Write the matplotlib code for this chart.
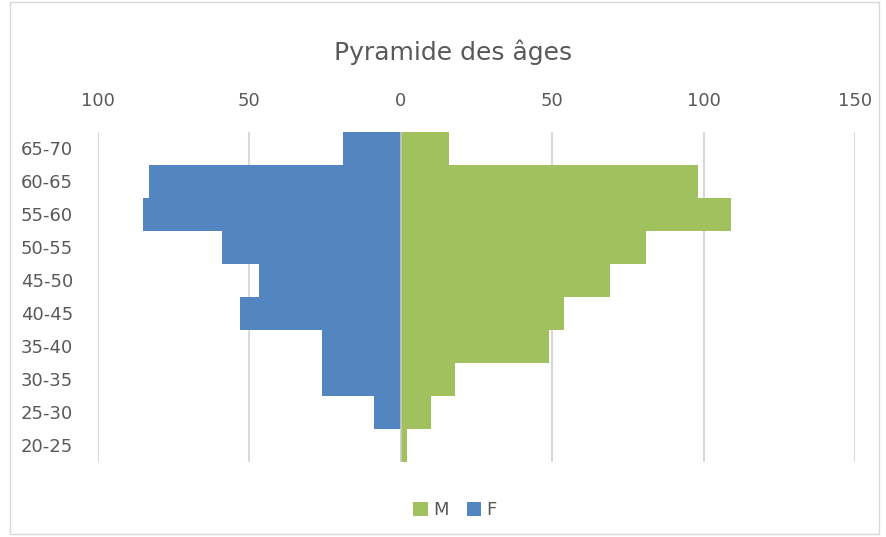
import matplotlib.pyplot as plt
from matplotlib.patches import Rectangle
from matplotlib.ticker import FuncFormatter

ages = ['20-25', '25-30', '30-35', '35-40', '40-45',
        '45-50', '50-55', '55-60', '60-65', '65-70']
hommes = [2, 10, 18, 49, 54, 69, 81, 109, 98, 16]
femmes = [0, 9, 26, 26, 53, 47, 59, 85, 83, 19]

vert = '#A1C05E'
bleu = '#5386C0'
gris = '#595959'


def main():
    fig = plt.figure(figsize=(8.87, 5.37), dpi=100)
    ax = fig.add_axes([0.1105, 0.1397, 0.8535, 0.6145])

    y = list(range(len(ages)))
    ax.barh(y, hommes, height=1.0, color=vert, linewidth=0,
            label='M', zorder=2)
    ax.barh(y, [-v for v in femmes], height=1.0, color=bleu, linewidth=0,
            label='F', zorder=2)

    ax.set_xlim(-100, 150)
    ax.set_ylim(-0.5, len(ages) - 0.5)
    ax.set_xticks([-100, -50, 0, 50, 100, 150])
    ax.xaxis.set_major_formatter(FuncFormatter(lambda v, p: '%d' % abs(v)))
    ax.xaxis.tick_top()
    ax.set_yticks(y)
    ax.set_yticklabels(ages)

    for x in [-100, -50, 50, 100, 150]:
        ax.axvline(x, color='#D9D9D9', linewidth=1.5, zorder=1)
    ax.axvline(0, color='#C8C8C8', linewidth=1.2, zorder=3)

    for s in ax.spines.values():
        s.set_visible(False)
    ax.tick_params(axis='x', length=0, pad=16, labelsize=13, labelcolor=gris)
    ax.tick_params(axis='y', length=0, pad=18, labelsize=13, labelcolor=gris)

    fig.text(0.511, 0.903, 'Pyramide des âges', ha='center', va='center',
             fontsize=18, color=gris)

    leg = fig.legend(loc='center', bbox_to_anchor=(0.513, 0.05), ncol=2,
                     frameon=False, fontsize=13, handlelength=0.8,
                     handleheight=0.8, handletextpad=0.3, columnspacing=1.0)
    for t in leg.get_texts():
        t.set_color(gris)

    fig.patches.append(Rectangle((0.011, 0.006), 0.98, 0.99,
                                 transform=fig.transFigure, fill=False,
                                 edgecolor='#D9D9D9', linewidth=1))

    fig.savefig('out.png', dpi=100)


if __name__ == '__main__':
    main()
